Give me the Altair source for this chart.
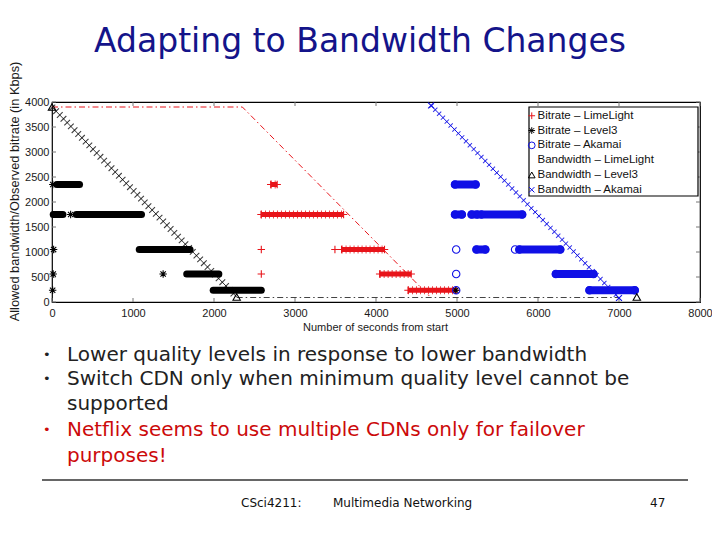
import altair as alt
import pandas as pd

# ---------------- data ----------------
x_ticks = [0, 1000, 2000, 3000, 4000, 5000, 6000, 7000, 8000]
y_ticks = [0, 500, 1000, 1500, 2000, 2500, 3000, 3500, 4000]

legend_labels = ["Bitrate – LimeLight", "Bitrate – Level3", "Bitrate – Akamai",
                 "Bandwidth – LimeLight", "Bandwidth – Level3", "Bandwidth – Akamai"]

# bitrate runs (start s, end s, kbps)
lime_run_start = [2700, 2580, 3575, 4045, 4395]
lime_run_end = [2780, 3600, 4105, 4435, 4990]
lime_run_kbps = [2350, 1750, 1050, 560, 235]
lime_pt_t = [2584, 2584, 3493]
lime_pt_kbps = [1050, 560, 1050]

level3_run_start = [60, 15, 300, 1077, 1663, 1990]
level3_run_end = [340, 135, 1105, 1704, 2060, 2584]
level3_run_kbps = [2350, 1750, 1750, 1050, 560, 235]
level3_pt_t = [10, 8, 15, 20, 230, 1372, 4985]
level3_pt_kbps = [2350, 235, 560, 1050, 1750, 560, 235]

akamai_run_start = [4975, 4975, 5180, 5300, 5240, 5770, 6220, 6635]
akamai_run_end = [5230, 5060, 5250, 5805, 5350, 6275, 6685, 7195]
akamai_run_kbps = [2350, 1750, 1750, 1750, 1050, 1050, 560, 235]
akamai_pt_t = [4990, 4990, 4990, 5717]
akamai_pt_kbps = [1050, 560, 235, 1050]

# bandwidth schedules (breakpoints)
bw_lime_t = [0, 2350, 4670]
bw_lime_kbps = [3900, 3900, 100]
bw_level3_t = [0, 2280]
bw_level3_kbps = [3900, 100]
bw_floor_t = [2280, 7000]
bw_floor_kbps = [90, 90]
bw_akamai_t = [4680, 7000]
bw_akamai_kbps = [3930, 80]
bw_level3_mark_t = [0, 2280, 7220]
bw_level3_mark_kbps = [3900, 100, 100]
bw_akamai_mark_t = [4680, 7000]
bw_akamai_mark_kbps = [3930, 80]

title_text = "Adapting to Bandwidth Changes"
bullet_lines = ["Lower quality levels in response to lower bandwidth",
                "Switch CDN only when minimum quality level cannot be",
                "supported",
                "Netflix seems to use multiple CDNs only for failover",
                "purposes!"]
footer_course = "CSci4211:"
footer_topic = "Multimedia Networking"
footer_page = "47"

# ---------------- styles ----------------
RED = "#e8141a"
BLUE = "#1010e6"
BLACK = "#000000"
CH_FONT = "Liberation Sans"
SL_FONT = "DejaVu Sans"
W, H = 648, 200

PLUS = "M-1,0H1M0,-1V1"
STAR = "M-1,0H1M0,-1V1M-0.72,-0.72L0.72,0.72M-0.72,0.72L0.72,-0.72"
XMK = "M-0.8,-0.8L0.8,0.8M-0.8,0.8L0.8,-0.8"
legend_colors = [RED, BLACK, BLUE, RED, BLACK, BLUE]
legend_shapes = [PLUS, STAR, "circle", "M0,0", "triangle-up", XMK]

XS = alt.Scale(domain=[0, 8000], nice=False, zero=False)
YS = alt.Scale(domain=[0, 4000], nice=False, zero=False)
XAX = alt.Axis(values=x_ticks, title="Number of seconds from start", ticks=False, tickSize=0,
               domain=False, grid=False, labelFont=CH_FONT, labelFontSize=11, labelColor="#1a1a1a",
               labelPadding=5, labelFlush=False, labelOverlap=False, format="d",
               titleFont=CH_FONT, titleFontSize=11, titleFontWeight="normal", titleColor="#1a1a1a",
               titleX=323, titleY=25, titleAlign="center", titleBaseline="middle")
YAX = alt.Axis(values=y_ticks, title="Allowed bandwidth/Observed bitrate (in Kbps)", ticks=False,
               tickSize=0, domain=False, grid=False, labelFont=CH_FONT, labelFontSize=11,
               labelColor="#1a1a1a", labelPadding=3, labelFlush=False, labelOverlap=False, format="d",
               titleFont=CH_FONT, titleFontSize=12.8, titleFontWeight="normal", titleColor="#1a1a1a",
               titleX=-38, titleY=89, titleAngle=270, titleAlign="center", titleBaseline="middle")


def X(f):
    return alt.X(f, type="quantitative", scale=XS, axis=XAX)


def Y(f):
    return alt.Y(f, type="quantitative", scale=YS, axis=YAX)


def df_line(t, k):
    return pd.DataFrame({"t": t, "kbps": k})


def df_runs(s, e, k):
    return pd.DataFrame({"start": s, "end": e, "kbps": k})


# ---------------- bandwidth lines ----------------
lime_bw = alt.Chart(df_line(bw_lime_t, bw_lime_kbps)).mark_line(
    color=RED, strokeWidth=1, strokeDash=[6, 3, 1.5, 3]).encode(x=X("t"), y=Y("kbps"))
floor_bw = alt.Chart(df_line(bw_floor_t, bw_floor_kbps)).mark_line(
    color="#444444", strokeWidth=1, strokeDash=[6, 3, 1.5, 3]).encode(x=X("t"), y=Y("kbps"))
level3_bw = alt.Chart(df_line(bw_level3_t, bw_level3_kbps)).mark_line(
    color=BLACK, strokeWidth=0.8).encode(x=X("t"), y=Y("kbps"))
level3_hatch = alt.Chart(df_line(bw_level3_t, bw_level3_kbps)).mark_line(
    color=BLACK, strokeWidth=8, strokeDash=[1.1, 4.2], opacity=0.75).encode(x=X("t"), y=Y("kbps"))
akamai_bw = alt.Chart(df_line(bw_akamai_t, bw_akamai_kbps)).mark_line(
    color=BLUE, strokeWidth=1).encode(x=X("t"), y=Y("kbps"))
akamai_hatch = alt.Chart(df_line(bw_akamai_t, bw_akamai_kbps)).mark_line(
    color=BLUE, strokeWidth=6, strokeDash=[1, 4.5], opacity=0.85).encode(x=X("t"), y=Y("kbps"))

# ---------------- bitrate runs ----------------
lime_runs = alt.Chart(df_runs(lime_run_start, lime_run_end, lime_run_kbps)).mark_rule(
    color=RED, strokeWidth=5).encode(x=X("start"), x2="end", y=Y("kbps"))
lime_runs_tick = alt.Chart(df_runs(lime_run_start, lime_run_end, lime_run_kbps)).mark_rule(
    color=RED, strokeWidth=8, strokeDash=[1, 3], opacity=0.8).encode(x=X("start"), x2="end", y=Y("kbps"))
level3_runs = alt.Chart(df_runs(level3_run_start, level3_run_end, level3_run_kbps)).mark_rule(
    color=BLACK, strokeWidth=7, strokeCap="round").encode(x=X("start"), x2="end", y=Y("kbps"))
akamai_runs = alt.Chart(df_runs(akamai_run_start, akamai_run_end, akamai_run_kbps)).mark_rule(
    color=BLUE, strokeWidth=8, strokeCap="round").encode(x=X("start"), x2="end", y=Y("kbps"))

# ---------------- markers (carry the legend) ----------------
pts = pd.concat([
    pd.DataFrame({"t": lime_pt_t + lime_run_start + lime_run_end,
                  "kbps": lime_pt_kbps + lime_run_kbps + lime_run_kbps,
                  "series": legend_labels[0]}),
    pd.DataFrame({"t": level3_pt_t, "kbps": level3_pt_kbps, "series": legend_labels[1]}),
    pd.DataFrame({"t": akamai_pt_t + akamai_run_start + akamai_run_end,
                  "kbps": akamai_pt_kbps + akamai_run_kbps + akamai_run_kbps,
                  "series": legend_labels[2]}),
    pd.DataFrame({"t": bw_level3_mark_t, "kbps": bw_level3_mark_kbps, "series": legend_labels[4]}),
    pd.DataFrame({"t": bw_akamai_mark_t, "kbps": bw_akamai_mark_kbps, "series": legend_labels[5]}),
], ignore_index=True)

LEG = alt.Legend(title=None, orient="none", legendX=472, legendY=6, padding=2,
                 labelFont=CH_FONT, labelFontSize=11.5, labelColor="#111111", labelOffset=0,
                 symbolSize=45, symbolStrokeWidth=1, symbolOffset=0, rowPadding=1.8,
                 labelLimit=300, symbolFillColor="transparent")
markers = alt.Chart(pts).mark_point(filled=False, size=55, strokeWidth=1.1, opacity=1).encode(
    x=X("t"), y=Y("kbps"),
    color=alt.Color("series:N", scale=alt.Scale(domain=legend_labels, range=legend_colors),
                    legend=LEG, sort=legend_labels),
    shape=alt.Shape("series:N", scale=alt.Scale(domain=legend_labels, range=legend_shapes),
                    legend=LEG, sort=legend_labels),
)

legend_box = alt.Chart(pd.DataFrame({"a": [0]})).mark_rect(
    fill="white", stroke="black", strokeWidth=1.2).encode(
    x=alt.value(477), x2=alt.value(646), y=alt.value(5), y2=alt.value(94))

# inward ticks on all four sides
xt = pd.DataFrame({"tick": x_ticks})
yt = pd.DataFrame({"tick": y_ticks})
tick_style = dict(color="#777777", strokeWidth=1)
ticks_bottom = alt.Chart(xt).mark_rule(**tick_style).encode(x=X("tick"), y=alt.value(H), y2=alt.value(H - 4))
ticks_top = alt.Chart(xt).mark_rule(**tick_style).encode(x=X("tick"), y=alt.value(0), y2=alt.value(4))
ticks_left = alt.Chart(yt).mark_rule(**tick_style).encode(y=Y("tick"), x=alt.value(0), x2=alt.value(4))
ticks_right = alt.Chart(yt).mark_rule(**tick_style).encode(y=Y("tick"), x=alt.value(W), x2=alt.value(W - 4))


# ---------------- slide texts ----------------
def txt(s, x, y, size, color, align="left", font=SL_FONT):
    return alt.Chart(pd.DataFrame({"s": [s]})).mark_text(
        align=align, baseline="middle", fontSize=size, font=font, color=color).encode(
        x=alt.value(x), y=alt.value(y), text="s:N")


DARK = "#222222"
TRED = "#cc0a0a"
texts = [txt(title_text, 308, -60, 33, "#14148a", align="center")]
bullet_y = [253, 277, 302, 328, 354]
bullet_color = [DARK, DARK, DARK, TRED, TRED]
for i, line in enumerate(bullet_lines):
    texts.append(txt(line, 15, bullet_y[i], 20, bullet_color[i]))
for i in [0, 1, 3]:
    texts.append(txt("•", -9, bullet_y[i], 13, bullet_color[i]))
texts.append(txt(footer_course, 189, 401, 12, "#111111"))
texts.append(txt(footer_topic, 281, 401, 12, "#111111"))
texts.append(txt(footer_page, 598, 401, 12, "#111111"))

sep = alt.Chart(pd.DataFrame({"a": [0]})).mark_rule(color="#333333", strokeWidth=1.3).encode(
    x=alt.value(-10), x2=alt.value(636), y=alt.value(378))

chart = alt.layer(
    ticks_bottom, ticks_top, ticks_left, ticks_right,
    lime_bw, floor_bw, level3_hatch, level3_bw, akamai_hatch, akamai_bw,
    lime_runs_tick, lime_runs, level3_runs, akamai_runs,
    legend_box, markers, sep, *texts,
).properties(
    width=W, height=H,
    padding={"left": 44, "top": 94, "right": 12, "bottom": 226},
    autosize=alt.AutoSizeParams(type="none"),
    background="white",
).configure_view(stroke="black", strokeWidth=1.2)

chart.save("out.html", embed_options={"renderer": "svg", "actions": False})
